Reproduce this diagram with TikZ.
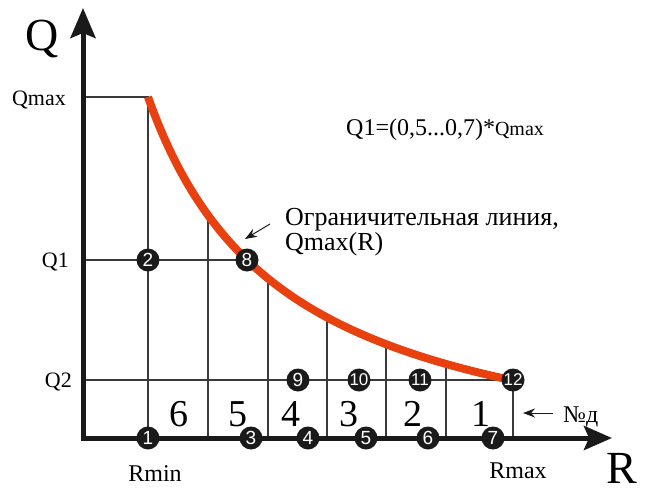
\documentclass[tikz,border=0pt]{standalone}
\usepackage{fontspec}
\setmainfont{Liberation Serif}
\newfontfamily\circfont{Liberation Sans}
\usetikzlibrary{arrows.meta}
\definecolor{curvecol}{HTML}{E8400E}
\definecolor{axiscol}{HTML}{1A1A1A}
\definecolor{gridcol}{HTML}{3A3A3A}
\newcommand{\myfs}[1]{\fontsize{#1}{#1}\selectfont}
\pgfdeclarelayer{gridlayer}
\pgfdeclarelayer{curvelayer}
\pgfsetlayers{gridlayer,curvelayer,main}
\begin{document}
\begin{tikzpicture}[x=1pt,y=-1pt,
  gridline/.style={draw=gridcol, line width=1.1pt},
  axisline/.style={draw=axiscol, line width=5pt, line join=miter, {Stealth[length=30pt,width=25pt,inset=5pt]}-{Stealth[length=28pt,width=24pt,inset=5pt]}},
  ptmark/.style={circle, fill=axiscol, inner sep=0pt, minimum size=23pt, text=white, font=\circfont\myfs{19}},
  ptmarkb/.style={ptmark, font=\circfont\myfs{17}},
  celllabel/.style={anchor=base, inner sep=0pt, font=\myfs{38}},
  axlabel/.style={anchor=base, inner sep=0pt, font=\myfs{46}},
  txt/.style={inner sep=0pt, font=\myfs{23}},
  pointer/.style={draw=axiscol, line width=1pt, -{Stealth[length=12pt,width=9pt]}},
  limit/.style={draw=curvecol, line width=8pt}
]
\useasboundingbox (0,0) rectangle (646,493);

% coordinates
\coordinate (O) at (83,438);
\coordinate (ytop) at (83,8);
\coordinate (xend) at (612,438);
\coordinate (qm) at (83,97);
\coordinate (cq) at (148,97);
\coordinate (q1a) at (83,260);
\coordinate (q2a) at (83,380);
\coordinate (t1) at (208,214); \coordinate (b1) at (208,438);
\coordinate (t2) at (268,280); \coordinate (b2) at (268,438);
\coordinate (t3) at (327,318); \coordinate (b3) at (327,438);
\coordinate (t4) at (386,345); \coordinate (b4) at (386,438);
\coordinate (t5) at (446,364); \coordinate (b5) at (446,438);
\coordinate (b6) at (513,438);

% points
\node[ptmark] (n1) at (148,438) {1};
\node[ptmark] (n2) at (148,260) {2};
\node[ptmark] (n3) at (251,438) {3};
\node[ptmark] (n4) at (308,438) {4};
\node[ptmark] (n5) at (366,438) {5};
\node[ptmark] (n6) at (428,438) {6};
\node[ptmark] (n7) at (493,438) {7};
\node[ptmark] (n8) at (247,260) {8};
\node[ptmark] (n9) at (298,380) {9};
\node[ptmarkb] (n10) at (359,380) {10};
\node[ptmarkb] (n11) at (420,380) {11};
\node[ptmarkb] (n12) at (513,380) {12};

% grid
\begin{pgfonlayer}{gridlayer}
\draw[gridline] (qm) -- (cq) -- (n2.center) -- (n1.center);
\draw[gridline] (q1a) -- (n8.center);
\draw[gridline] (q2a) -- (n12.center);
\draw[gridline] (t1) -- (b1);
\draw[gridline] (t2) -- (b2);
\draw[gridline] (t3) -- (b3);
\draw[gridline] (t4) -- (b4);
\draw[gridline] (t5) -- (b5);
\draw[gridline] (n12.center) -- (b6);
\end{pgfonlayer}

% axes and limit curve
\begin{pgfonlayer}{curvelayer}
\draw[axisline] (ytop) -- (O) -- (xend);
\draw[limit] plot[domain=148:513, samples=90, smooth] (\x, {488 - 541.54/((\x-9.5)/100)});
\end{pgfonlayer}

% cell numbers
\node[celllabel] (c6) at (179,426) {6};
\node[celllabel] (c5) at (238,426) {5};
\node[celllabel] (c4) at (291,426) {4};
\node[celllabel] (c3) at (349,426) {3};
\node[celllabel] (c2) at (413,426) {2};
\node[celllabel] (c1) at (481,426) {1};

% axis labels
\node[axlabel] (lq) at (42,50) {Q};
\node[axlabel] (lr) at (622,483) {R};
\node[txt, anchor=base east, font=\myfs{22}] (lqmax) at (66,105) {Qmax};
\node[txt, anchor=base east, font=\myfs{22}] (lq1) at (69,267) {Q1};
\node[txt, anchor=base east, font=\myfs{22}] (lq2) at (72,387) {Q2};
\node[txt, anchor=base, font=\myfs{24}] (lrmin) at (155,481) {Rmin};
\node[txt, anchor=base, font=\myfs{24}] (lrmax) at (518,478) {Rmax};

% formula
\node[txt, anchor=base west, font=\myfs{24}] (form) at (346,135) {Q1=(0,5...0,7)*{\myfs{20}Qmax}};

% annotation
\node[txt, anchor=base west, font=\myfs{26}] (ann1) at (285,225) {Ограничительная линия,};
\node[txt, anchor=base west, font=\myfs{26}] (ann2) at (285,250) {Qmax(R)};
\coordinate (p1s) at (270,224);
\coordinate (p1e) at (245,239);
\draw[pointer] (p1s) -- (p1e);

\node[txt, anchor=base west, font=\myfs{24}] (nd) at (563,422) {№д};
\coordinate (p2s) at (553,413);
\coordinate (p2e) at (523,413);
\draw[pointer] (p2s) -- (p2e);
\end{tikzpicture}
\end{document}
